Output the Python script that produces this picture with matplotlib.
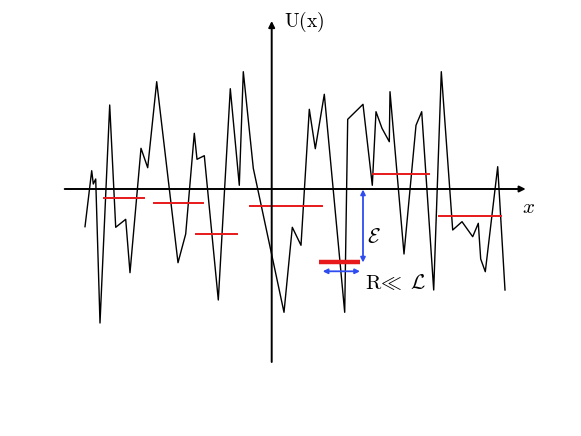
import matplotlib
matplotlib.use("Agg")
import matplotlib.pyplot as plt
import numpy as np

plt.rcParams['mathtext.fontset'] = 'cm'
plt.rcParams['font.family'] = ['DejaVu Serif']

# Random potential profile (x, U); origin at axis crossing
x_pts = [-186.7, -180.0, -178.4, -176.0, -171.7, -162.0, -156.0, -146.0, -141.7, -130.7,
         -124.0, -115.0, -93.7, -86.0, -77.4, -74.7, -67.4, -53.4, -41.4, -32.4,
         -28.4, -18.4, 12.3, 20.6, 29.3, 37.6, 43.6, 52.6, 73.0, 76.0,
         91.3, 100.6, 104.3, 110.3, 117.6, 118.3, 132.3, 144.3, 150.0, 162.0,
         169.6, 181.0, 190.3, 201.0, 206.6, 209.0, 213.6, 226.0, 233.3]
u_pts = [-37.7, 18.3, 5.0, 10.0, -134.0, 84.0, -38.3, -30.3, -83.7, 40.7,
         21.3, 107.3, -73.7, -45.0, 55.7, 29.7, 33.3, -111.0, 100.3, 3.7,
         117.3, 20.7, -123.3, -38.3, -56.3, 79.7, 40.3, 94.7, -123.3, 69.7,
         84.7, 3.7, 77.3, 60.7, 47.3, 97.3, -65.0, 63.7, 77.3, -101.0,
         117.3, -41.0, -32.7, -47.7, -34.3, -70.0, -82.7, 22.3, -101.0]

# Energy levels (red segments): x-start, x-end, U
lvl_x0 = [-167.4, -117.4, -75.7, -21.7, 101.6, 167.0]
lvl_x1 = [-128.0, -69.0, -35.0, 50.0, 157.3, 229.3]
lvl_u = [-9.3, -14.0, -44.7, -17.0, 15.0, -26.7]
# Thick ground level
gnd_x = [47.6, 88.3]
gnd_u = -73.0

fig = plt.figure(figsize=(5.81, 4.36), dpi=100)
ax = fig.add_axes([0, 0, 1, 1])
ax.set_xlim(-271.7, 581 - 271.7)
ax.set_ylim(189 - 436, 189)
ax.axis('off')

# axes with arrows
ax.annotate('', xy=(254, 0), xytext=(-207, 0),
            arrowprops=dict(arrowstyle='-|>', color='black', lw=1.4,
                            mutation_scale=9, shrinkA=0, shrinkB=0))
ax.annotate('', xy=(0, 168), xytext=(0, -173),
            arrowprops=dict(arrowstyle='-|>', color='black', lw=1.4,
                            mutation_scale=9, shrinkA=0, shrinkB=0))

ax.plot(x_pts, u_pts, color='black', lw=1.0)

for a, b, u in zip(lvl_x0, lvl_x1, lvl_u):
    ax.plot([a, b], [u, u], color='#e8191a', lw=1.4)
ax.plot(gnd_x, [gnd_u, gnd_u], color='#e8191a', lw=3.2, solid_capstyle='butt')

# blue arrows
ax.annotate('', xy=(91.3, -73.5), xytext=(91.3, -0.5),
            arrowprops=dict(arrowstyle='<|-|>', color='#2f4cf0', lw=1.3,
                            mutation_scale=7, shrinkA=0, shrinkB=0))
ax.annotate('', xy=(88.3, -82.3), xytext=(51.0, -82.3),
            arrowprops=dict(arrowstyle='<|-|>', color='#2f4cf0', lw=1.3,
                            mutation_scale=7, shrinkA=0, shrinkB=0))

ax.text(12, 167, r'$\mathrm{U(x)}$', fontsize=14, ha='left', va='center')
ax.text(250, -18, r'$x$', fontsize=15, ha='left', va='center')
ax.text(95, -48, r'$\mathcal{E}$', fontsize=15, ha='left', va='center')
ax.text(93, -94, r'$\mathrm{R}\!\ll\;\mathcal{L}$', fontsize=15, ha='left', va='center')

fig.savefig('out.png', dpi=100)
